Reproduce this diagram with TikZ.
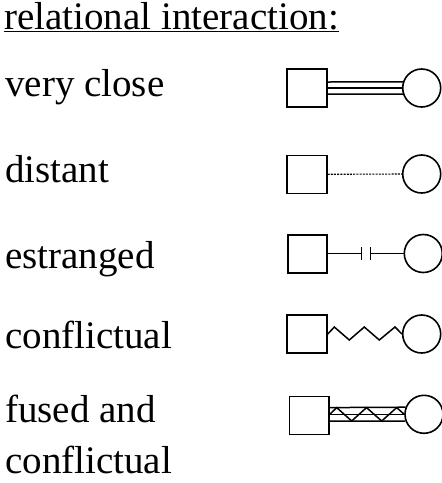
\documentclass[tikz,border=0pt]{standalone}
\usepackage{fontspec}
\setmainfont{Liberation Serif}
\begin{document}
\begin{tikzpicture}[x=1pt,y=-1pt,
  lbl/.style={anchor=base west,inner sep=0pt,font=\fontsize{39}{51}\selectfont},
  sq/.style={draw,line width=1.6pt,minimum width=39.5pt,minimum height=38pt,inner sep=0pt},
  ci/.style={draw,circle,line width=1.6pt,minimum size=38pt,inner sep=0pt},
  rel/.style={line width=1.5pt},
  dotrel/.style={line width=1.1pt,dash pattern=on 2pt off 1.2pt}]
\useasboundingbox (0,0) rectangle (442,483);
% labels
\node[lbl] (title) at (4,29.5) {\underline{relational interaction:}};
\node[lbl] (l1) at (5,96) {very close};
\node[lbl] (l2) at (5,182.5) {distant};
\node[lbl] (l3) at (5,268) {estranged};
\node[lbl] (l4) at (5,348) {conflictual};
\node[lbl,align=left] (l5) at (5,473) {fused and\\conflictual};
% row 1: very close
\node[sq] (sq1) at (307,88) {};
\node[ci] (ci1) at (421.7,88) {};
\draw[rel] (sq1.east) -- (ci1.west);
\draw[rel] ([yshift=6pt]sq1.east) -- (ci1.162);
\draw[rel] ([yshift=-6pt]sq1.east) -- (ci1.198);
% row 2: distant
\node[sq] (sq2) at (307,174.3) {};
\node[ci] (ci2) at (421.7,174) {};
\draw[dotrel] (sq2.east) -- (ci2.west);
% row 3: estranged
\node[sq] (sq3) at (307.5,254) {};
\node[ci] (ci3) at (423.3,253.5) {};
\coordinate (t3a) at (361.7,253.5);
\coordinate (t3b) at (370.7,253.5);
\draw[rel] (sq3.east |- t3a) -- (t3a);
\draw[rel] ([yshift=6.2pt]t3a) -- ([yshift=-6.2pt]t3a);
\draw[rel] ([yshift=6.2pt]t3b) -- ([yshift=-6.2pt]t3b);
\draw[rel] (t3b) -- (ci3.west);
% row 4: conflictual
\node[sq] (sq4) at (307,334.2) {};
\node[ci] (ci4) at (421.7,334) {};
\draw[rel,line join=miter] (sq4.east) -- (334.3,327) -- (349.3,340) -- (364.3,327)
  -- (379.3,340) -- (395,327) -- (ci4.west);
% row 5: fused and conflictual
\node[sq] (sq5) at (309.2,415.5) {};
\node[ci] (ci5) at (424,414.3) {};
\draw[rel] (sq5.east |- ci5.west) -- (ci5.west);
\draw[rel] ([yshift=6.7pt]sq5.east |- ci5.west) -- (ci5.159.4);
\draw[rel] ([yshift=-6.7pt]sq5.east |- ci5.west) -- (ci5.200.6);
\draw[rel] (sq5.east |- ci5.west) -- (336.7,407.6) -- (351.7,421) -- (366.5,407.6)
  -- (381.7,421) -- (396.7,407.6) -- (ci5.west);
\end{tikzpicture}
\end{document}
